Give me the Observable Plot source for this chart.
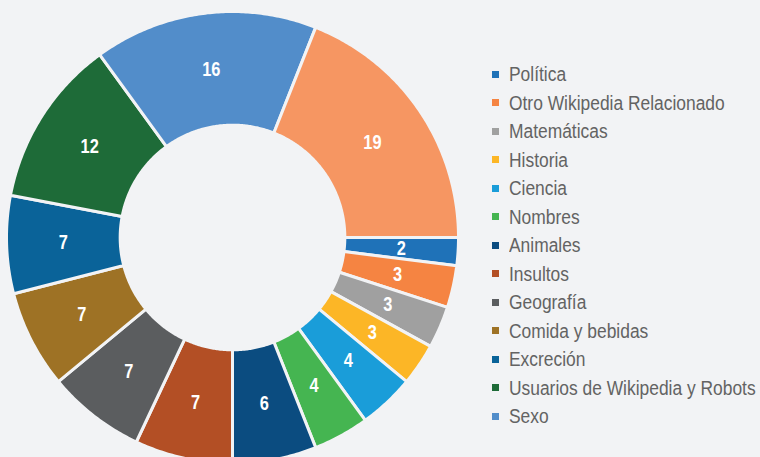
<!DOCTYPE html>
<html>
<head>
<meta charset="utf-8">
<script src="https://cdn.jsdelivr.net/npm/d3@7"></script>
<script src="https://cdn.jsdelivr.net/npm/@observablehq/plot@0.6"></script>
<style>
  html, body { margin: 0; padding: 0; background: #F2F3F5; overflow: hidden; }
  #wrap { position: relative; width: 760px; height: 457px; }
  #legend { position: absolute; left: 492px; top: 60px; font-family: "Liberation Sans", Arial, sans-serif; font-size: 20px; color: #636363; }
  .item { height: 28.5px; line-height: 28.5px; display: flex; align-items: center; white-space: nowrap; }
  .sw { width: 7px; height: 7px; margin-right: 10px; flex: none; }
  .tx { display: inline-block; transform: scaleX(0.87); transform-origin: 0 50%; }
</style>
</head>
<body>
<div id="wrap">
  <div id="chart"></div>
  <div id="legend"></div>
</div>
<script>
const categories = ["Política", "Otro Wikipedia Relacionado", "Matemáticas", "Historia", "Ciencia", "Nombres", "Animales", "Insultos", "Geografía", "Comida y bebidas", "Excreción", "Usuarios de Wikipedia y Robots", "Sexo", "Otros"];
const values = [2, 3, 3, 3, 4, 4, 6, 7, 7, 7, 7, 12, 16, 19];
const colors = ["#1F72B8", "#F58442", "#A0A0A0", "#FCB626", "#1A9DD9", "#45B551", "#0B4C80", "#B34F25", "#5B5D5F", "#9E7225", "#0A6399", "#1E6B38", "#528DCA", "#F69662"];
const legendCount = 13;

const bg = "#F2F3F5";
const innerRatio = 0.497;
const R = 226, cx = 232, cy = 237;

const arcs = d3.pie().sort(null).startAngle(Math.PI / 2).endAngle(Math.PI / 2 + 2 * Math.PI)(values);

const pts = [];
const labels = [];
arcs.forEach((a, i) => {
  const cat = categories[i];
  const n = Math.max(8, Math.ceil((a.endAngle - a.startAngle) / 0.01));
  for (let k = 0; k <= n; k++) {
    const t = a.startAngle + (a.endAngle - a.startAngle) * k / n;
    pts.push({cat, x: Math.sin(t), y: Math.cos(t)});
  }
  for (let k = n; k >= 0; k--) {
    const t = a.startAngle + (a.endAngle - a.startAngle) * k / n;
    pts.push({cat, x: innerRatio * Math.sin(t), y: innerRatio * Math.cos(t)});
  }
  const m = (a.startAngle + a.endAngle) / 2;
  const rm = (1 + innerRatio) / 2;
  labels.push({cat, value: values[i], x: rm * Math.sin(m), y: rm * Math.cos(m)});
});

const chart = Plot.plot({
  width: 760,
  height: 457,
  margin: 0,
  style: {background: bg, overflow: "hidden"},
  x: {domain: [-1, 1], range: [cx - R, cx + R], axis: null},
  y: {domain: [-1, 1], range: [cy + R, cy - R], axis: null},
  color: {domain: categories, range: colors},
  marks: [
    Plot.line(pts, {x: "x", y: "y", z: "cat", fill: "cat", stroke: bg, strokeWidth: 3, curve: "linear-closed"}),
    Plot.text(labels, {x: "x", y: "y", text: "value", fill: "white", fontSize: 20, fontWeight: "bold", fontFamily: "'Liberation Sans', Arial, sans-serif", className: "slice-label"})
  ]
});
document.getElementById("chart").appendChild(chart);

// condense the slice labels horizontally (narrow face as in the reference)
chart.querySelectorAll("text").forEach(el => {
  const tr = el.getAttribute("transform");
  if (tr) {
    el.setAttribute("transform", tr + " scale(0.82,1)");
  } else {
    const x = +el.getAttribute("x"), y = +el.getAttribute("y");
    el.removeAttribute("x"); el.removeAttribute("y");
    el.setAttribute("transform", `translate(${x},${y}) scale(0.82,1)`);
  }
});

const legend = document.getElementById("legend");
categories.slice(0, legendCount).forEach((c, i) => {
  const row = document.createElement("div");
  row.className = "item";
  const sw = document.createElement("span");
  sw.className = "sw";
  sw.style.background = colors[i];
  const tx = document.createElement("span");
  tx.className = "tx";
  tx.textContent = c;
  row.appendChild(sw);
  row.appendChild(tx);
  legend.appendChild(row);
});
</script>
</body>
</html>
